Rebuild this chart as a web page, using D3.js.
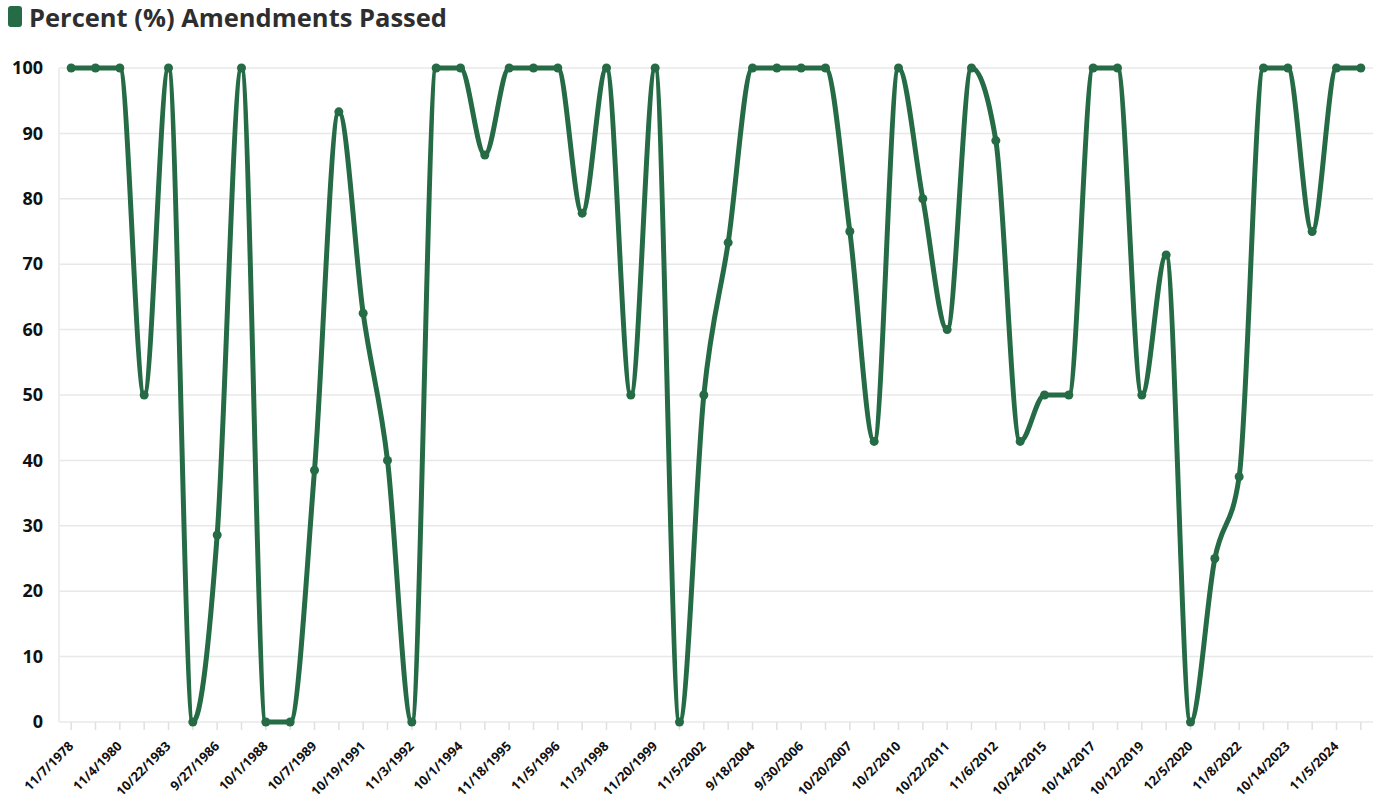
<!DOCTYPE html>
<html>
<head>
<meta charset="utf-8">
<script src="https://cdn.jsdelivr.net/npm/d3@7"></script>
<style>
  body { margin: 0; background: #fff; }
  #chart text { font-family: "Open Sans", "Noto Sans", sans-serif; }
</style>
</head>
<body>
<div id="chart"></div>
<script>
// election dates (only every other one is labelled on the axis)
const dates = [
  "11/7/1978", "10/27/1979", "11/4/1980", "9/11/1982", "10/22/1983", "11/6/1984",
  "9/27/1986", "10/24/1987", "10/1/1988", "4/29/1989", "10/7/1989", "10/6/1990",
  "10/19/1991", "11/16/1991", "11/3/1992", "10/16/1993", "10/1/1994", "10/21/1995",
  "11/18/1995", "9/21/1996", "11/5/1996", "10/4/1997", "11/3/1998", "10/23/1999",
  "11/20/1999", "11/7/2000", "11/5/2002", "10/4/2003", "9/18/2004", "11/2/2004",
  "9/30/2006", "11/7/2006", "10/20/2007", "11/4/2008", "10/2/2010", "11/2/2010",
  "10/22/2011", "3/24/2012", "11/6/2012", "11/4/2014", "10/24/2015", "11/8/2016",
  "10/14/2017", "11/6/2018", "10/12/2019", "11/3/2020", "12/5/2020", "11/13/2021",
  "11/8/2022", "12/10/2022", "10/14/2023", "3/23/2024", "11/5/2024", "3/29/2025"
];

const percentPassed = [
  100, 100, 100, 50, 100, 0, 28.6, 100, 0, 0,
  38.5, 93.3, 62.5, 40, 0, 100, 100, 86.7, 100, 100,
  100, 77.8, 100, 50, 100, 0, 50, 73.3, 100, 100,
  100, 100, 75, 42.9, 100, 80, 60, 100, 88.9, 42.9,
  50, 50, 100, 100, 50, 71.4, 0, 25, 37.5, 100,
  100, 75, 100, 100
];

const yTicks = [0, 10, 20, 30, 40, 50, 60, 70, 80, 90, 100];

const title = "Percent (%) Amendments Passed";
const green = "#256b45";

const width = 1381, height = 804;
const margin = {top: 68, right: 8, bottom: 82, left: 59};

const data = dates.map((d, i) => ({date: d, value: percentPassed[i]}));

const svg = d3.select("#chart").append("svg")
  .attr("width", width)
  .attr("height", height);

const x = d3.scaleBand()
  .domain(dates)
  .range([margin.left, width - margin.right]);

const y = d3.scaleLinear()
  .domain([0, 100])
  .range([height - margin.bottom, margin.top]);

// title + legend swatch
svg.append("rect")
  .attr("x", 8).attr("y", 6)
  .attr("width", 14).attr("height", 21)
  .attr("rx", 3)
  .attr("fill", green);

svg.append("text")
  .attr("x", 29).attr("y", 27)
  .attr("font-size", 25.5)
  .attr("font-weight", 700)
  .attr("fill", "#2e2e2e")
  .text(title);

// horizontal grid
svg.append("g")
  .selectAll("line")
  .data(yTicks)
  .join("line")
  .attr("x1", margin.left)
  .attr("x2", width - margin.right)
  .attr("y1", d => y(d))
  .attr("y2", d => y(d))
  .attr("stroke", "#e8e8e8")
  .attr("stroke-width", 1.5);

// left axis line
svg.append("line")
  .attr("x1", margin.left).attr("x2", margin.left)
  .attr("y1", y(100)).attr("y2", y(0))
  .attr("stroke", "#e8e8e8")
  .attr("stroke-width", 1.5);

// y axis labels
const yAxis = svg.append("g")
  .attr("transform", "translate(" + (margin.left - 16) + ",0)")
  .call(d3.axisLeft(y).tickValues(yTicks).tickSize(0).tickPadding(0));
yAxis.select(".domain").remove();
yAxis.selectAll("text")
  .attr("font-size", 18)
  .attr("font-weight", 700)
  .attr("fill", "#111");

// x axis
const xAxis = svg.append("g")
  .attr("transform", "translate(0," + y(0) + ")")
  .call(d3.axisBottom(x)
    .tickSize(8)
    .tickFormat((d, i) => i % 2 === 0 ? d : ""));
xAxis.select(".domain").remove();
xAxis.selectAll(".tick line")
  .attr("stroke", "#e0e0e0")
  .attr("stroke-width", 1.5);
xAxis.selectAll("text")
  .attr("font-size", 13)
  .attr("font-weight", 700)
  .attr("fill", "#111")
  .attr("text-anchor", "end")
  .attr("x", 0)
  .attr("y", 0)
  .attr("dy", 0)
  .attr("transform", "translate(3,25) rotate(-45)");

// the line
const line = d3.line()
  .x(d => x(d.date) + x.bandwidth() / 2)
  .y(d => y(d.value))
  .curve(d3.curveMonotoneX);

svg.append("path")
  .datum(data)
  .attr("fill", "none")
  .attr("stroke", green)
  .attr("stroke-width", 5)
  .attr("stroke-linejoin", "round")
  .attr("d", line);

svg.append("g")
  .selectAll("circle")
  .data(data)
  .join("circle")
  .attr("cx", d => x(d.date) + x.bandwidth() / 2)
  .attr("cy", d => y(d.value))
  .attr("r", 4.5)
  .attr("fill", green);
</script>
</body>
</html>
